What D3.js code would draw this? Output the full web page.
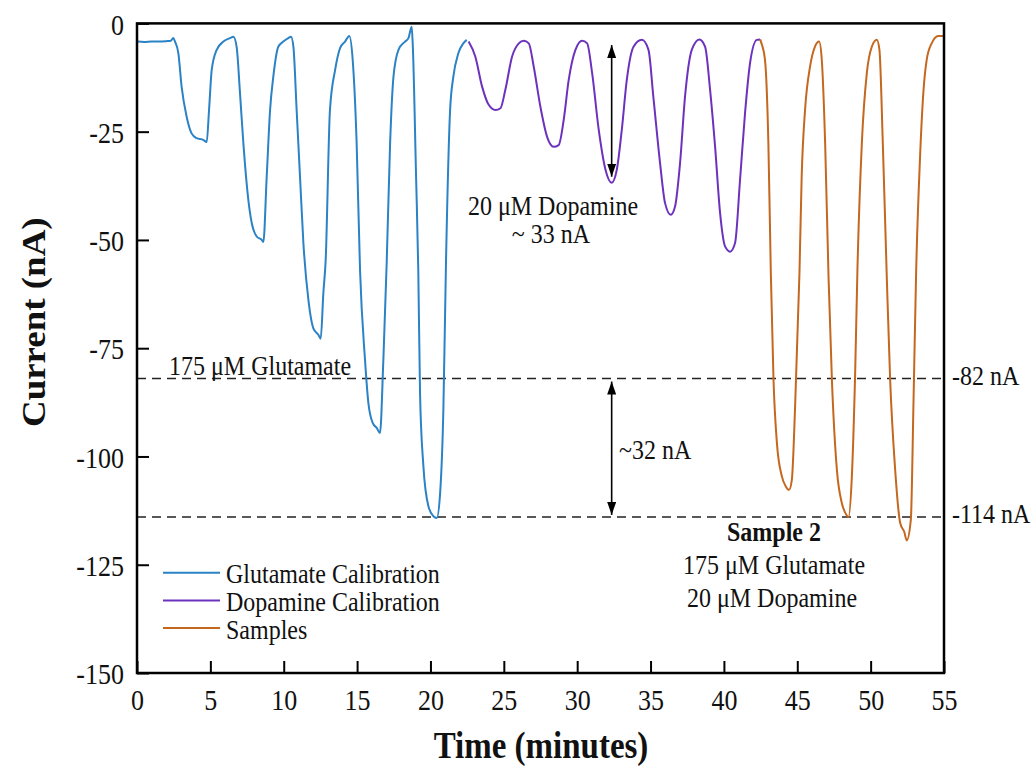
<!DOCTYPE html>
<html>
<head>
<meta charset="utf-8">
<script src="https://cdn.jsdelivr.net/npm/d3@7"></script>
<style>
  body { margin: 0; background: #fff; }
  svg { display: block; font-family: "Liberation Serif", "Times New Roman", serif; }
</style>
</head>
<body>
<div id="chart"></div>
<script>

// time (min), current (nA)
var glutamateCal = [[0,-4.2],[0.5,-4.3],[1,-4.2],[1.5,-4.2],[2,-4.1],[2.3,-4.0],[2.47,-3.4],[2.59,-4.2],[2.82,-6.9],[3.04,-14.6],[3.38,-21.5],[3.72,-25.4],[4.06,-26.5],[4.52,-26.9],[4.75,-27.4],[4.91,-20],[5.09,-10.8],[5.43,-6.1],[5.89,-4.2],[6.34,-3.4],[6.57,-3.1],
  [6.79,-5.4],[7.02,-16.1],[7.25,-27.7],[7.59,-40.8],[7.82,-46.1],[8.16,-49.2],[8.5,-50],[8.61,-50.5],[8.84,-35.4],[9.07,-20],[9.29,-12.3],[9.63,-5.4],[9.97,-4.2],[10.31,-3.4],[10.5,-3.1],
  [10.66,-5.4],[10.88,-20],[11.11,-35.4],[11.34,-50.7],[11.68,-63.8],[12.02,-70.4],[12.36,-71.9],[12.52,-72.8],[12.7,-62.3],[12.86,-54.6],[13.15,-20],[13.5,-10.8],[13.84,-5.7],[14.18,-4.2],[14.47,-2.9],
  [14.7,-8.4],[14.97,-27.7],[15.2,-56.9],[15.54,-77.7],[15.77,-87.7],[16.07,-92.3],[16.34,-93.4],[16.56,-94.6],[16.79,-77.7],[17.02,-55],[17.25,-27.7],[17.48,-12.3],[17.82,-6.1],[18.27,-4.2],[18.5,-3.4],[18.72,-0.8],
  [18.79,-4.6],[19.02,-35.4],[19.17,-56.9],[19.29,-85.4],[19.52,-102.3],[19.86,-111.5],[20.2,-113.8],[20.43,-114.2],[20.66,-108.4],[20.88,-89.2],[21.06,-55],[21.34,-20],[21.56,-12.3],[21.9,-6.9],[22.24,-4.6],[22.47,-3.8]];

var dopamineCal = [[22.6,-4.2],[23.06,-7.7],[23.52,-14.6],[23.97,-18.8],[24.43,-20],[24.77,-19.6],[25.1,-15.4],[25.56,-7.7],[26.02,-4.6],[26.36,-4.0],
  [26.7,-4.6],[27.04,-10],[27.49,-19.2],[27.95,-26.2],[28.4,-28.5],[28.74,-28.1],[29.08,-22.3],[29.42,-13.1],[29.88,-6.1],[30.34,-4.0],
  [30.68,-4.6],[31.02,-11.5],[31.47,-24.6],[31.93,-33.8],[32.35,-36.8],[32.7,-33.8],[33.04,-24.6],[33.38,-13.1],[33.84,-5.4],[34.41,-3.8],
  [34.86,-6.1],[35.19,-16.9],[35.65,-32.3],[35.99,-41.5],[36.38,-44.2],[36.67,-42.3],[37.01,-32.3],[37.35,-16.9],[37.81,-6.1],[38.33,-3.7],
  [38.72,-5.4],[39.06,-15.4],[39.4,-28.5],[39.74,-43.8],[40.08,-51.5],[40.42,-52.7],[40.76,-50.7],[41.1,-36.1],[41.44,-20.7],[41.78,-9.2],[42.24,-3.8],[42.47,-3.7]];

var samples = [[42.47,-3.7],[42.55,-4.5],[42.8,-8.4],[43.03,-27.6],[43.2,-58],[43.38,-82.3],[43.61,-96.8],[43.95,-104.6],[44.2,-106.8],[44.44,-107.7],[44.63,-105.4],[44.86,-87.7],[45.15,-57.5],[45.3,-35.4],[45.53,-20],[45.87,-10],[46.2,-5.4],[46.49,-4.2],
  [46.67,-8.4],[46.9,-27.7],[47.13,-58.5],[47.36,-82.3],[47.7,-103.1],[48.04,-110.8],[48.3,-113.2],[48.49,-114],[48.72,-104.6],[48.95,-80],[49.1,-56.9],[49.4,-27.7],[49.74,-11.5],[50.08,-5.4],[50.42,-3.8],
  [50.6,-6.1],[50.83,-27.7],[51.1,-58.5],[51.33,-82.3],[51.67,-103],[52.01,-115.3],[52.3,-117.5],[52.46,-119.4],[52.74,-114.6],[52.92,-87.7],[53.1,-57.5],[53.36,-31.5],[53.59,-16.1],[53.82,-8.4],[54.16,-4.6],[54.61,-2.9],[55,-2.9]];

var seriesNames = ["Glutamate Calibration", "Dopamine Calibration", "Samples"];
var seriesColors = ["#2b82c4", "#6c32bd", "#c4671f"];

var xTicks = [0,5,10,15,20,25,30,35,40,45,50,55];
var yTicks = [0,-25,-50,-75,-100,-125,-150];

var refLevels = [-82, -114];           // dashed reference lines
var dopArrow = [32.35, -5, -35.4];      // t, from, to
var gluArrow = [32.35, -82.7, -113.5];

var W = 1034, H = 770;
var plotLeft = 137, plotRight = 944, plotTop = 23.4, plotBottom = 673;
var stretch = 1.12; // the figure's text is a little taller than wide

var x = d3.scaleLinear().domain([0, 55]).range([plotLeft, plotRight]);
var y = d3.scaleLinear().domain([-150, 0]).range([plotBottom, plotTop]);

var svg = d3.select("#chart").append("svg")
    .attr("width", W)
    .attr("height", H);

svg.append("defs").append("marker")
    .attr("id", "head")
    .attr("markerUnits", "userSpaceOnUse")
    .attr("markerWidth", 13)
    .attr("markerHeight", 9)
    .attr("refX", 13)
    .attr("refY", 4.5)
    .attr("orient", "auto-start-reverse")
  .append("path")
    .attr("d", "M0,0L13,4.5L0,9Z")
    .attr("fill", "#000");

function label(px, py, txt, anchor, size, weight) {
    return svg.append("text")
        .attr("transform", "translate(" + px + "," + py + ") scale(1," + stretch + ")")
        .attr("text-anchor", anchor)
        .style("font-size", size + "px")
        .style("font-weight", weight || "normal")
        .style("fill", "#111")
        .text(txt);
}

// dashed levels
svg.selectAll(".ref")
   .data(refLevels)
   .enter()
   .append("line")
   .attr("x1", plotLeft)
   .attr("x2", plotRight)
   .attr("y1", function(d){ return y(d); })
   .attr("y2", function(d){ return y(d); })
   .style("stroke", "#222")
   .style("stroke-width", 1.5)
   .style("stroke-dasharray", "9,6");

// traces
var line = d3.line()
    .x(function(d){ return x(d[0]); })
    .y(function(d){ return y(d[1]); })
    .curve(d3.curveMonotoneX);

[glutamateCal, dopamineCal, samples].forEach(function(s, i) {
    svg.append("path")
       .datum(s)
       .attr("d", line)
       .style("fill", "none")
       .style("stroke", seriesColors[i])
       .style("stroke-width", 2);
});

// axes, ticks pointing inward
var yAxis = svg.append("g")
    .attr("transform", "translate(" + plotLeft + ",0)")
    .call(d3.axisLeft(y).tickValues(yTicks).tickSizeInner(-12).tickSizeOuter(0).tickPadding(13)
          .tickFormat(function(d){ return String(d); }));

var xAxis = svg.append("g")
    .attr("transform", "translate(0," + plotBottom + ")")
    .call(d3.axisBottom(x).tickValues(xTicks).tickSizeInner(-12).tickSizeOuter(0).tickPadding(15)
          .tickFormat(function(d){ return String(d); }));

[yAxis, xAxis].forEach(function(a) {
    a.select(".domain").remove();
    a.selectAll(".tick line").style("stroke", "#000").style("stroke-width", 2);
    a.selectAll(".tick text")
     .style("font-size", "26px")
     .style("font-family", "Liberation Serif, serif")
     .style("fill", "#111")
     .attr("transform", "scale(1," + stretch + ")");
});
yAxis.selectAll(".tick text").attr("dy", "0.37em");

// frame
svg.append("rect")
   .attr("x", plotLeft)
   .attr("y", plotTop)
   .attr("width", plotRight - plotLeft)
   .attr("height", plotBottom - plotTop)
   .style("fill", "none")
   .style("stroke", "#000")
   .style("stroke-width", 2.5);

// axis titles
label((plotLeft + plotRight) / 2 + 0.5, 758, "Time (minutes)", "middle", 33, "bold");
svg.append("text")
   .attr("transform", "translate(45," + ((plotTop + plotBottom) / 2 - 26) + ") rotate(-90) scale(" + stretch + ",1)")
   .attr("text-anchor", "middle")
   .style("font-size", "33px")
   .style("font-weight", "bold")
   .style("fill", "#111")
   .text("Current (nA)");

// arrows
[dopArrow, gluArrow].forEach(function(a) {
    svg.append("line")
       .attr("x1", x(a[0])).attr("x2", x(a[0]))
       .attr("y1", y(a[1])).attr("y2", y(a[2]))
       .style("stroke", "#000")
       .style("stroke-width", 1.6)
       .attr("marker-start", "url(#head)")
       .attr("marker-end", "url(#head)");
});

// annotations
label(169, y(-82) - 3.5, "175 \u03BCM Glutamate", "start", 24);
label(553, 215, "20 \u03BCM Dopamine", "middle", 24);
label(551, 243, "~ 33 nA", "middle", 24);
label(619, 459, "~32 nA", "start", 24);
label(952, y(-82) + 6.5, "-82 nA", "start", 24);
label(952, y(-114) + 6.2, "-114 nA", "start", 24);
label(774, 541, "Sample 2", "middle", 24, "bold");
label(774, 574, "175 \u03BCM Glutamate", "middle", 24);
label(772, 607, "20 \u03BCM Dopamine", "middle", 24);

// legend
var legendY = [572.7, 600.5, 628];
seriesNames.forEach(function(n, i) {
    svg.append("line")
       .attr("x1", 163).attr("x2", 220)
       .attr("y1", legendY[i]).attr("y2", legendY[i])
       .style("stroke", seriesColors[i])
       .style("stroke-width", 2);
    label(226, legendY[i] + 10.5, n, "start", 24);
});

</script>
</body>
</html>
